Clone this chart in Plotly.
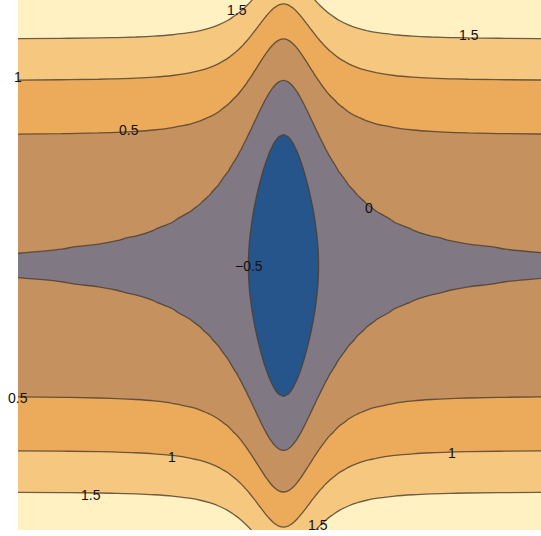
import plotly.graph_objects as go

# horizontal positions and the dip of the surface along x
X_POS = [-1.45, -1.2, -1.0, -0.9, -0.8, -0.7, -0.6, -0.5, -0.45, -0.4, -0.35, -0.3,
         -0.25, -0.225, -0.2, -0.175, -0.15, -0.125, -0.1, -0.075, -0.05, -0.025, 0.0,
         0.025, 0.05, 0.075, 0.1, 0.125, 0.15, 0.175, 0.2, 0.225, 0.25,
         0.3, 0.35, 0.4, 0.45, 0.5, 0.6, 0.7, 0.8, 0.9, 1.0, 1.2, 1.45]
X_DIP = [0.0047, 0.0082, 0.0138, 0.0185, 0.0257, 0.0369, 0.0552, 0.0869, 0.1114, 0.1451,
         0.1917, 0.2568, 0.3471, 0.4040, 0.4694, 0.5433, 0.6244, 0.7103, 0.7964, 0.8761,
         0.9415, 0.9848, 1.0, 0.9848, 0.9415, 0.8761, 0.7964, 0.7103, 0.6244, 0.5433,
         0.4694, 0.4040, 0.3471, 0.2568, 0.1917, 0.1451, 0.1114, 0.0869, 0.0552, 0.0369,
         0.0257, 0.0185, 0.0138, 0.0082, 0.0047]

# vertical positions and the rise of the surface along y
Y_POS = [-1.45, -1.4, -1.35, -1.3, -1.25, -1.2, -1.15, -1.1, -1.05, -1.0, -0.95, -0.9,
         -0.85, -0.8, -0.75, -0.7, -0.65, -0.6, -0.55, -0.5, -0.45, -0.4, -0.35, -0.3,
         -0.25, -0.2, -0.15, -0.1, -0.05, 0.0, 0.05, 0.1, 0.15, 0.2, 0.25, 0.3, 0.35,
         0.4, 0.45, 0.5, 0.55, 0.6, 0.65, 0.7, 0.75, 0.8, 0.85, 0.9, 0.95, 1.0, 1.05,
         1.1, 1.15, 1.2, 1.25, 1.3, 1.35, 1.4, 1.45]
Y_RISE = [2.1025, 1.96, 1.8225, 1.69, 1.5625, 1.44, 1.3225, 1.21, 1.1025, 1.0, 0.9025,
          0.81, 0.7225, 0.64, 0.5625, 0.49, 0.4225, 0.36, 0.3025, 0.25, 0.2025, 0.16,
          0.1225, 0.09, 0.0625, 0.04, 0.0225, 0.01, 0.0025, 0.0, 0.0025, 0.01, 0.0225,
          0.04, 0.0625, 0.09, 0.1225, 0.16, 0.2025, 0.25, 0.3025, 0.36, 0.4225, 0.49,
          0.5625, 0.64, 0.7225, 0.81, 0.9025, 1.0, 1.1025, 1.21, 1.3225, 1.44, 1.5625,
          1.69, 1.8225, 1.96, 2.1025]

# contour labels: text and where they sit
LABEL_TEXT = ["1.5", "1.5", "1", "0.5", "0", "\u22120.5", "0.5", "1", "1.5", "1", "1.5"]
LABEL_X = [-0.251, 1.003, -1.435, -0.835, 0.462, -0.186, -1.435, -0.603, -1.041, 0.911, 0.186]
LABEL_Y = [1.381, 1.246, 1.019, 0.732, 0.311, -0.003, -0.716, -1.035, -1.241, -1.014, -1.405]

BAND_COLORS = ["#26558b", "#807882", "#c4915f", "#ebab5b", "#f6c77f", "#fff1c2"]

z = [[r - d for d in X_DIP] for r in Y_RISE]

fig = go.Figure(go.Contour(
    x=X_POS, y=Y_POS, z=z,
    autocontour=False,
    contours=dict(start=-0.5, end=1.5, size=0.5, coloring="fill", showlabels=False),
    colorscale=[[i / 5, c] for i, c in enumerate(BAND_COLORS)],
    line=dict(color="rgba(75,60,45,0.8)", width=1.3, smoothing=1.0),
    showscale=False,
    hoverinfo="skip",
))

for t, lx, ly in zip(LABEL_TEXT, LABEL_X, LABEL_Y):
    fig.add_annotation(x=lx, y=ly, text=t, showarrow=False,
                       font=dict(family="Liberation Sans, Arial, sans-serif",
                                 size=14, color="#111111"))

fig.update_layout(
    width=541, height=536,
    margin=dict(l=18, r=0, t=0, b=6),
    paper_bgcolor="white", plot_bgcolor="white",
    xaxis=dict(range=[-1.435, 1.392], visible=False),
    yaxis=dict(range=[-1.430, 1.435], visible=False),
)

fig.write_html(
    "out.html",
    config={"displayModeBar": False},
    post_script="document.body.style.margin='0';document.body.style.overflow='hidden';",
)
